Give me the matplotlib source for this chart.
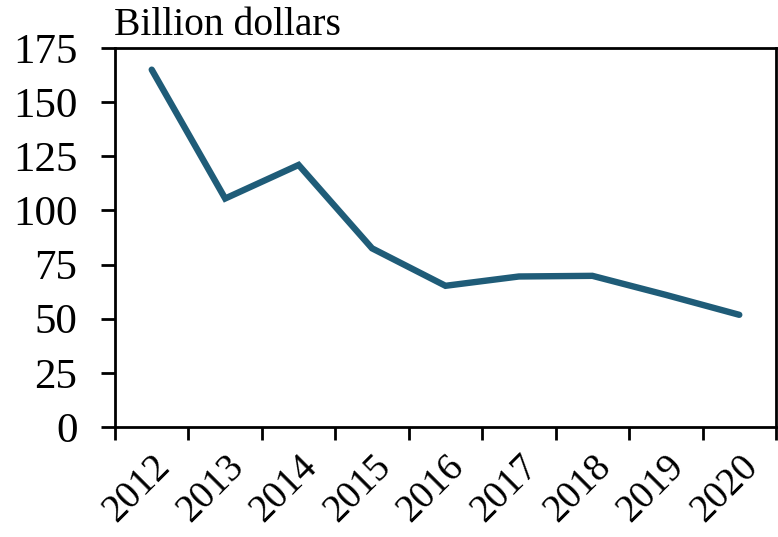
import matplotlib
matplotlib.use("Agg")
import matplotlib.pyplot as plt
import numpy as np

years = ["2012", "2013", "2014", "2015", "2016", "2017", "2018", "2019", "2020"]
values = [165, 105.5, 121, 82.5, 65.2, 69.5, 69.8, 61, 51.8]
yticks = [0, 25, 50, 75, 100, 125, 150, 175]

plt.rcParams['font.family'] = ['Liberation Serif', 'DejaVu Serif']

fig = plt.figure(figsize=(7.78, 5.37), dpi=100)
ax = fig.add_axes([115/778, 1-427/537, (776-115)/778, (427-48)/537])

x = np.arange(len(years))
ax.plot(x, values, color='#1F5C78', lw=4.6, solid_capstyle='round', solid_joinstyle='miter')

ax.set_xlim(-0.5, len(years)-0.5)
ax.set_ylim(0, 175)
ax.set_yticks(yticks)
ax.set_yticklabels([str(v) for v in yticks], fontsize=31)
ax.set_xticks(x)
ax.set_xticklabels(years, fontsize=28, rotation=45, ha='right', rotation_mode='anchor')
ax.set_xticks(np.arange(len(years)+1)-0.5, minor=True)
ax.tick_params(axis='x', which='major', length=0, pad=15)
ax.tick_params(axis='x', which='minor', length=9, width=2, direction='out')
ax.tick_params(axis='y', which='major', length=10, width=2, direction='out', pad=17)
for s in ax.spines.values():
    s.set_linewidth(2)

fig.text(114/778, 1-35/537, "Billion dollars", fontsize=28.5, ha='left', va='baseline')

fig.savefig("out.png", dpi=100)
